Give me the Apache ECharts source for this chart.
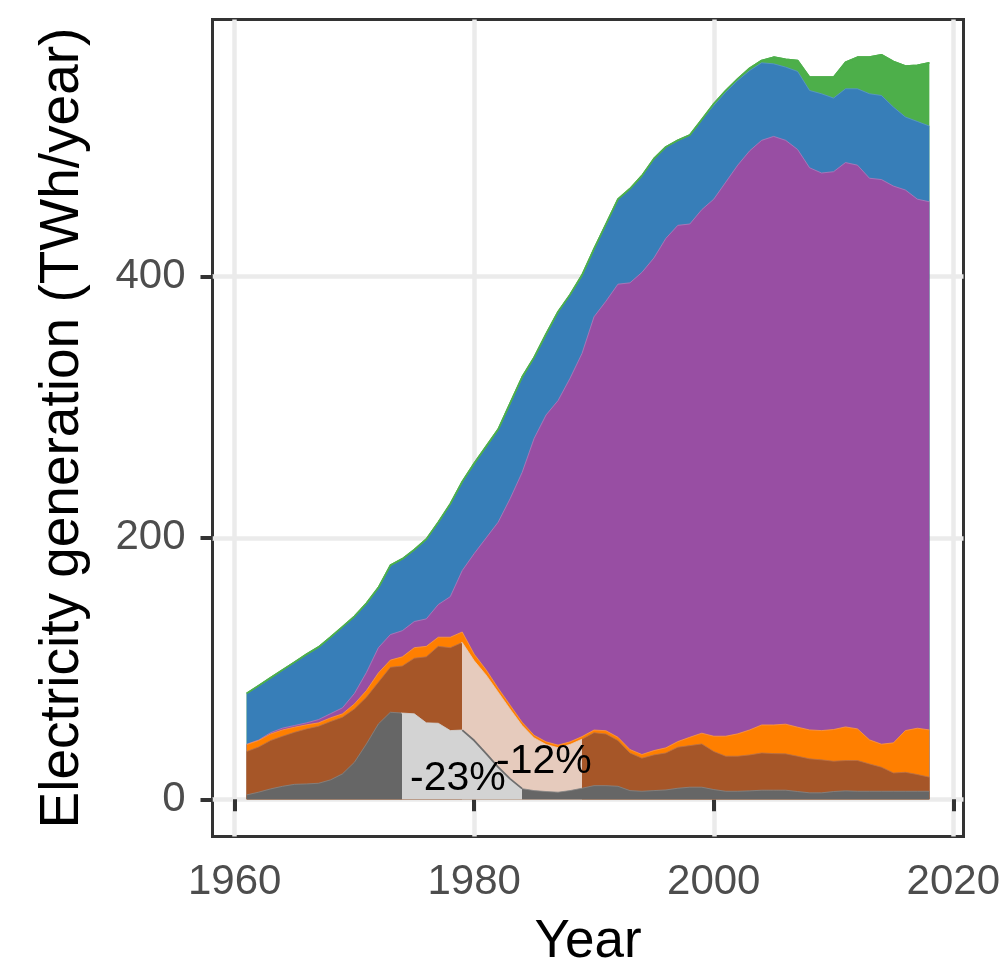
<!DOCTYPE html>
<html>
<head>
<meta charset="utf-8">
<script src="https://cdn.jsdelivr.net/npm/echarts@6/dist/echarts.min.js"></script>
<style>
  html, body { margin: 0; padding: 0; background: #ffffff; }
  #chart { width: 1005px; height: 965px; }
</style>
</head>
<body>
<div id="chart"></div>
<script>
// Annual electricity generation by source, TWh/year
const years = [1961,1962,1963,1964,1965,1966,1967,1968,1969,1970,
               1971,1972,1973,1974,1975,1976,1977,1978,1979,1980,
               1981,1982,1983,1984,1985,1986,1987,1988,1989,1990,
               1991,1992,1993,1994,1995,1996,1997,1998,1999,2000,
               2001,2002,2003,2004,2005,2006,2007,2008,2009,2010,
               2011,2012,2013,2014,2015,2016,2017,2018];

const coal = [3.4,5.5,8,10,11.5,11.8,12.3,14.9,19.5,28.4,
              42.4,57.7,66.6,66,65.4,58.5,58.2,52.6,53,45,
              35,24.6,15.7,8.2,6.7,6,5.5,6.7,8.5,10.5,
              10.5,10,6.7,6.2,6.7,7.2,8.5,9.3,9.3,7.5,
              6.2,6.2,6.5,7,7,7,6,5,5,6,
              6.5,6.2,6.2,6.2,6.2,6.2,6.2,6.2];

const oil = [33.2,34.5,37,38.3,39.8,42.1,43.6,44.6,43.3,40.8,
             35.7,31.9,34.4,36,42.6,50.5,58.8,63.4,67,61,
             60,57.4,53.3,48.3,40.3,36,34,35.3,37.5,40.5,
             39.5,35,28.8,25.3,27.3,28.3,31.4,31.8,33.1,29.1,
             26.8,26.8,27.5,28.5,28,27.8,27,26,25.2,23.2,
             23.2,23.5,20.9,18.4,14,14.5,12.8,10.8];

const gas = [5.3,5,5,4.8,3.9,3.1,2.6,2.8,2.6,3.8,
             5.1,7.1,5.5,7,8,8,7,8,8,5,
             4,3,3,2.5,2,2,2,2,2,2,
             2.5,2.5,2.6,2.8,3.3,3.9,4.3,6.4,8.2,11.7,
             15.3,17.1,19.1,21.4,21.9,22.7,22.2,22.1,22.4,24.2,
             25.7,24.2,18.4,17.6,23,31.9,35.4,36.1];

const nuclear = [0.2,0.4,1,1.4,1.3,1.5,2.5,3.2,4.6,8,
                 13.8,19.3,19.5,20,20,21,25,31,47,77,
                 101,127,158,191,227,250,263.5,278,293,316,
                 328.5,346.5,356.9,368.7,376.7,389.6,394.8,392.5,400.4,410.7,
                 423.7,434.9,442.9,447.1,450.1,446.5,441.8,429.9,426.4,426.6,
                 431.6,431.1,429.5,431.8,425.8,413.4,404.6,403.9];

const hydro = [38.9,41.6,42,44.5,48.5,52.5,55.5,58.5,62,59,
               53,46,53,55,55,61,63,71,68,69,
               70,71,73,73,62,62,68,64,60,52,
               59,65,72,74,76,70,65,68,69,71.7,
               68.9,64.8,61.4,59.3,55.5,56,59.7,59.1,60.6,56.3,
               56.4,58.4,64.6,64.3,60.4,55.8,59.4,57.9];

const windSolar = [0,0,0,0,0,0,0,0,0,0,
                   0,0,0,0,0,0,0,0,0,0,
                   0,0,0,0,0,0,0,0,0,0,
                   0,0,0,0,0,0,0,0,0,1.3,
                   1.2,1.3,1.8,1.8,5.1,5.9,8.4,10.2,12.7,16,
                   20.4,24.2,28,31.1,34.9,39,42.9,48.4];

// Periods of decline and their stated rates
const coalDecline = { from: 1974, to: 1984, text: '-23%' };
const oilDecline = { from: 1979, to: 1989, text: '-12%' };

const xTicks = [1960, 1980, 2000, 2020];
const yTicks = [0, 200, 400];

const FONT = 'Liberation Sans, Arial, Helvetica, sans-serif';

// Horizontal fill that switches colour inside a period, positioned
// relative to the area's own extent (first year to last year)
function periodFill(base, highlight, period) {
  const first = years[0], last = years[years.length - 1];
  const a = (period.from - first) / (last - first);
  const b = (period.to - first) / (last - first);
  return new echarts.graphic.LinearGradient(0, 0, 1, 0, [
    { offset: 0, color: base },
    { offset: a, color: base },
    { offset: a, color: highlight },
    { offset: b, color: highlight },
    { offset: b, color: base },
    { offset: 1, color: base }
  ]);
}

// Sources from the bottom of the pile to the top
const sources = [
  { name: 'Coal', vals: coal,
    fill: periodFill('#666666', '#D3D3D3', coalDecline),
    edge: periodFill('#858585', '#D3D3D3', coalDecline), width: 0.8 },
  { name: 'Oil', vals: oil,
    fill: periodFill('#A65628', '#E6CBBD', oilDecline),
    edge: periodFill('#B8714A', '#E6CBBD', oilDecline), width: 0.8 },
  { name: 'Gas', vals: gas, fill: '#FF7F00', edge: '#FF9A40', width: 0.8 },
  { name: 'Nuclear', vals: nuclear, fill: '#984EA3', edge: '#B27CBB', width: 0.8 },
  { name: 'Hydro', vals: hydro, fill: '#377EB8', edge: '#5C98CB', width: 0.8 },
  { name: 'Wind & solar', vals: windSolar, fill: '#4DAF4A', edge: '#4DAF4A', width: 1.6 }
];

// Running totals: each band is drawn as the area up to its cumulative top,
// painted from the highest total down so lower sources sit in front
let running = years.map(() => 0);
sources.forEach(s => {
  running = running.map((t, i) => t + s.vals[i]);
  s.top = years.map((y, i) => [y, running[i]]);
});

const areaSeries = sources.slice().reverse().map(s => ({
  type: 'line',
  name: s.name,
  data: s.top,
  symbol: 'none',
  showSymbol: false,
  silent: true,
  z: 2,
  emphasis: { disabled: true },
  itemStyle: { color: typeof s.fill === 'string' ? s.fill : '#666666' },
  areaStyle: { opacity: 1, color: s.fill, origin: 0 },
  lineStyle: { width: s.width, color: s.edge }
}));

// Edge of the coal band across the oil decline window
const coalEdge = sources[0].top.filter(p => p[0] >= oilDecline.from && p[0] <= coalDecline.to);

const axisCommon = {
  type: 'value',
  nameLocation: 'middle',
  nameMoveOverlap: false,
  axisLine: { show: false },
  splitLine: { show: true, lineStyle: { color: '#EBEBEB', width: 4.5 } }
};

const chart = echarts.init(document.getElementById('chart'), null, { renderer: 'canvas' });

chart.setOption({
  animation: false,
  backgroundColor: '#ffffff',
  grid: {
    left: 212.5, top: 19.5, width: 751, height: 817,
    outerBoundsMode: 'none', containLabel: false,
    show: true, borderColor: '#333333', borderWidth: 3, backgroundColor: 'transparent'
  },
  xAxis: Object.assign({}, axisCommon, {
    min: 1958.15, max: 2020.85,
    name: 'Year', nameGap: 79,
    nameTextStyle: { fontSize: 53, color: '#000000', fontFamily: FONT },
    axisTick: { show: true, customValues: xTicks, length: 12, lineStyle: { color: '#333333', width: 4 } },
    axisLabel: { customValues: xTicks, formatter: v => String(v), fontSize: 42, color: '#4D4D4D', margin: 25, fontFamily: FONT }
  }),
  yAxis: Object.assign({}, axisCommon, {
    min: -28.4, max: 596.4,
    name: 'Electricity generation (TWh/year)', nameGap: 122,
    nameTextStyle: { fontSize: 55, color: '#000000', fontFamily: FONT },
    axisTick: { show: true, customValues: yTicks, length: 12, lineStyle: { color: '#333333', width: 4 } },
    axisLabel: { customValues: yTicks, formatter: v => String(v), fontSize: 42, color: '#4D4D4D', margin: 27, fontFamily: FONT }
  }),
  series: areaSeries.concat([
    {
      type: 'line', name: 'Coal edge', data: coalEdge, symbol: 'none', silent: true, z: 3,
      lineStyle: { color: '#6E6E6E', width: 1.8 }
    },
    {
      type: 'line', name: 'Total edge', data: sources[sources.length - 1].top,
      symbol: 'none', silent: true, z: 3,
      lineStyle: { color: '#4DAF4A', width: 1.6 }
    },
    {
      type: 'scatter', name: 'Decline rates', silent: true, z: 10,
      symbolSize: 1, itemStyle: { color: 'transparent' },
      data: [
        [1978.64, 16, coalDecline.text],
        [1985.82, 28.7, oilDecline.text]
      ],
      label: {
        show: true, position: 'inside',
        formatter: p => p.data[2],
        fontSize: 41, color: '#000000', opacity: 1, fontFamily: FONT
      },
      labelLayout: { hideOverlap: false }
    }
  ])
});
</script>
</body>
</html>
